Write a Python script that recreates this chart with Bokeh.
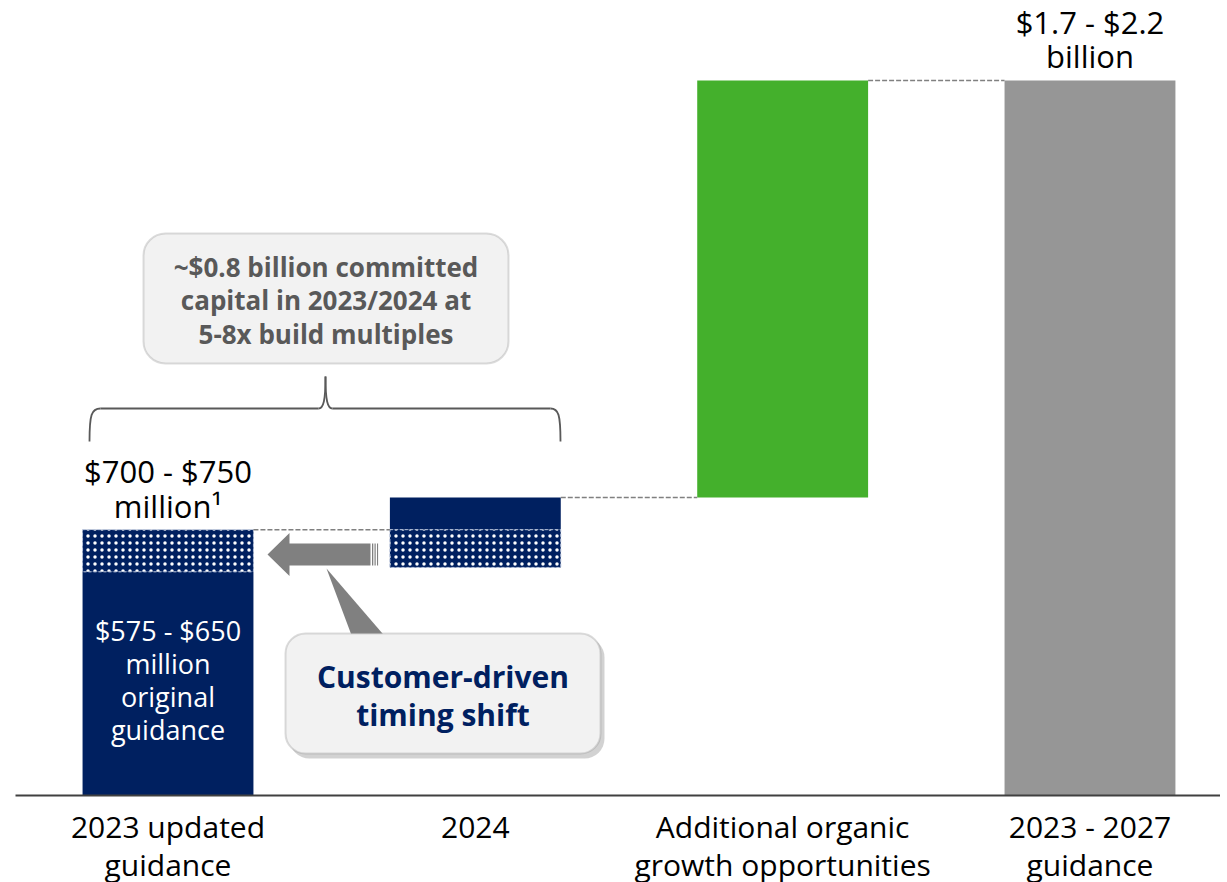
from bokeh.plotting import figure
from bokeh.models import Range1d, FixedTicker, BoxAnnotation
from bokeh.core.properties import value
from bokeh.embed import file_html
from bokeh.resources import INLINE

# ---------------- data ($ millions, midpoint estimates) ----------------
categories = ["2023 updated\nguidance", "2024",
              "Additional organic\ngrowth opportunities", "2023 - 2027\nguidance"]
cat_pos = [0, 1, 2, 3]

original_2023 = 610      # $575 - $650 million original guidance
updated_2023 = 725       # $700 - $750 million
shift_2024_low = 622     # bottom of shifted part shown in 2024
cum_2024 = 813           # cumulative through 2024
total_2027 = 1950        # $1.7 - $2.2 billion

solid_x = [0, 1, 2, 3]
solid_bottom = [0, updated_2023, cum_2024, 0]
solid_top = [original_2023, cum_2024, total_2027, total_2027]

dot_x = [0, 1]
dot_bottom = [original_2023, shift_2024_low]
dot_top = [updated_2023, updated_2023]

top_labels = ["$700 - $750\nmillion\u00b9", "$1.7 - $2.2\nbillion"]
inner_label = "$575 - $650\nmillion\noriginal\nguidance"

# ---------------- styling ----------------
NAVY = "#002060"
GREEN = "#44b02c"
GRAY = "#969696"
ARROW = "#808080"
FONT = value("Open Sans")
BAR_W = 0.556

# pixel helpers for decorations (frame: x 15..1220, y 8..795)
PXX = 307.33
PXY = 715.0 / total_2027
def X(px):
    return (px - 167.5) / PXX
def Y(py):
    return (795.0 - py) / PXY

p = figure(frame_width=1205, frame_height=787, output_backend="svg",
           toolbar_location=None, y_axis_location=None,
           x_range=Range1d(X(15), X(1220)), y_range=Range1d(0, Y(8)),
           min_border_left=15, min_border_right=0, min_border_top=8,
           min_border_bottom=0)
p.outline_line_color = None
p.grid.visible = False
p.background_fill_color = "white"

# bars
p.vbar(x=solid_x, width=BAR_W, bottom=solid_bottom, top=solid_top,
       fill_color=[NAVY, NAVY, GREEN, GRAY], line_color=None)
p.vbar(x=dot_x, width=BAR_W, bottom=dot_bottom, top=dot_top,
       fill_color=NAVY, line_color="#b8c4dc", line_width=1, line_dash="3 2",
       hatch_pattern="dot", hatch_color="white", hatch_scale=7,
       hatch_weight=1)

# dashed connectors
hw = BAR_W / 2
p.segment(x0=[0 + hw, 1 + hw, 2 + hw], x1=[1 - hw, 2 - hw, 3 - hw],
          y0=[updated_2023, cum_2024, total_2027],
          y1=[updated_2023, cum_2024, total_2027],
          line_color="#808080", line_width=1.5, line_dash="5 2")

# timing-shift arrow
ymid = Y(554)
p.patch(x=[X(267), X(289), X(289), X(370), X(370), X(289), X(289)],
        y=[ymid, ymid + 21.5 / PXY, ymid + 11 / PXY, ymid + 11 / PXY,
           ymid - 11 / PXY, ymid - 11 / PXY, ymid - 21.5 / PXY],
        fill_color=ARROW, line_color=None)
p.quad(left=[X(371.5), X(374), X(376.5)], right=[X(372.8), X(375.2), X(377.6)],
       bottom=ymid - 11 / PXY, top=ymid + 11 / PXY,
       fill_color=ARROW, line_color=None)

# pointer of callout 2
p.patch(x=[X(326), X(353), X(388)], y=[Y(568), Y(640), Y(640)],
        fill_color=ARROW, line_color=None)

# brace
BR = "#595959"
p.segment(x0=[X(100), X(332)], x1=[X(318), X(550)], y0=Y(408), y1=Y(408),
          line_color=BR, line_width=1.8)
p.bezier(x0=[X(89), X(318), X(332), X(550)],
         y0=[Y(441), Y(408), Y(408), Y(408)],
         x1=[X(100), X(325), X(325), X(560)],
         y1=[Y(408), Y(376), Y(376), Y(441)],
         cx0=[X(89), X(323), X(327), X(558)],
         cy0=[Y(414), Y(408), Y(408), Y(408)],
         cx1=[X(91), X(325), X(325), X(560)],
         cy1=[Y(408), Y(400), Y(400), Y(414)],
         line_color=BR, line_width=1.8)

# callout boxes
shadow = BoxAnnotation(left=X(289), right=X(604), top=Y(637), bottom=Y(758),
                       fill_color="#7f7f7f", fill_alpha=0.35, line_color=None,
                       border_radius=20)
box2 = BoxAnnotation(left=X(285), right=X(600), top=Y(633), bottom=Y(753),
                     fill_color="#f2f2f2", fill_alpha=1, line_color="#8a8a8a",
                     line_width=2, border_radius=20)
box1 = BoxAnnotation(left=X(143), right=X(508), top=Y(233), bottom=Y(363),
                     fill_color="#f2f2f2", fill_alpha=1, line_color="#8a8a8a",
                     line_width=2, border_radius=22)
p.add_layout(shadow)
p.add_layout(box2)
p.add_layout(box1)

# value labels
p.text(x=[0, 3], y=[updated_2023, total_2027], text=top_labels,
       text_font=FONT, text_font_size="31px", text_color="#000000",
       text_align="center", text_baseline="bottom", text_line_height=0.83,
       y_offset=-3, level="overlay")
p.text(x=[0], y=[original_2023 / 2], text=[inner_label], text_font=FONT,
       text_font_size="27px", text_color="white", text_align="center",
       text_baseline="middle", text_line_height=0.89, y_offset=-3.5,
       level="overlay")
p.text(x=[X(325.5)], y=[Y(300)],
       text=["~$0.8 billion committed\ncapital in 2023/2024 at\n5-8x build multiples"],
       text_font=FONT, text_font_size="26px", text_font_style="bold",
       text_color="#595959", text_align="center", text_baseline="middle",
       text_line_height=0.93, level="overlay")
p.text(x=[X(442.5)], y=[Y(695)], text=["Customer-driven\ntiming shift"],
       text_font=FONT, text_font_size="30px", text_font_style="bold",
       text_color=NAVY, text_align="center", text_baseline="middle",
       text_line_height=0.93, level="overlay")

# x axis
ax = p.xaxis[0]
ax.ticker = FixedTicker(ticks=cat_pos)
ax.major_label_overrides = {c: t for c, t in zip(cat_pos, categories)}
ax.major_label_text_font = "Open Sans"
ax.major_label_text_font_size = "30px"
ax.major_label_text_color = "#000000"
ax.major_label_text_line_height = 0.93
ax.major_label_standoff = 4
ax.major_tick_line_color = None
ax.minor_tick_line_color = None
ax.axis_line_color = "#404040"
ax.axis_line_width = 2

open("out.html", "w").write(file_html(p, INLINE))
